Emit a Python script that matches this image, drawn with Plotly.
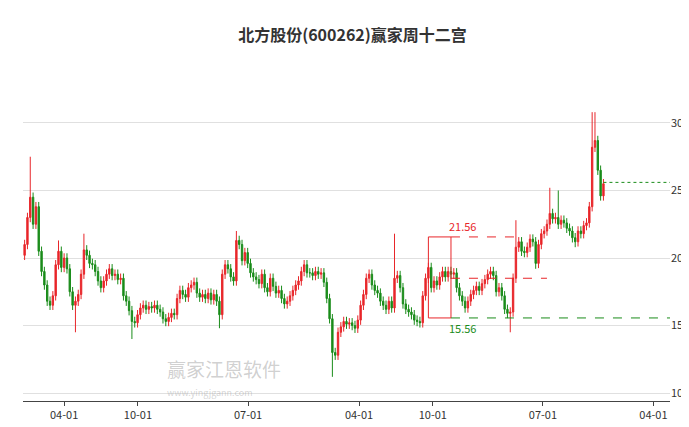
import pandas as pd
import plotly.graph_objects as go

closes = [
    21, 23, 24.5, 22.5, 23.8, 20.5, 19, 18, 16.8, 16.5,
    17.2, 19.5, 20.5, 19.3, 20, 19.2, 17.5, 16.5, 16.8, 17.3,
    18.8, 20.6, 20.2, 19.6, 19.5, 19.0, 18.3, 17.8, 18.3, 18.8,
    19.2, 18.7, 18.8, 18.4, 18.5, 17.2, 16.8, 16.1, 15.3, 15.2,
    15.8, 16.3, 16.5, 16.2, 16.4, 16.3, 16.5, 16.2, 16.0, 15.5,
    15.3, 15.6, 15.9, 15.8, 17.0, 17.6, 17.3, 17.1, 17.8, 18.0,
    18.2, 17.4, 17.1, 17.3, 17.0, 17.4, 16.9, 17.3, 16.8, 15.8,
    18.8, 19.5, 19.2, 18.6, 18.3, 21.3, 21.0, 19.8, 20.4, 19.6,
    18.9, 18.6, 18.4, 18.1, 18.8, 17.8, 17.5, 18.5, 17.9, 17.4,
    17.6, 17.0, 16.6, 16.8, 17.2, 17.6, 18.0, 18.3, 19.0, 19.5,
    18.9, 18.9, 18.7, 19.0, 18.8, 18.9, 18.2, 17.0, 15.5, 13.0,
    12.8, 14.5, 14.9, 15.3, 15.1, 15.2, 15.0, 14.8, 15.4, 16.5,
    17.3, 18.5, 18.8, 18.0, 17.6, 17.4, 16.8, 16.5, 16.2, 16.8,
    16.3, 18.5, 18.7, 17.8, 16.6, 16.2, 16.0, 15.8, 15.4, 15.3,
    15.2, 17.2, 18.5, 19.3, 17.8, 18.3, 18.0, 18.6, 19.0, 18.6,
    19.0, 18.8, 18.9, 17.8, 17.2, 16.8, 16.3, 16.8, 17.3, 17.6,
    17.9, 17.6, 18.1, 18.4, 18.8, 19.0, 18.7, 17.5, 17.8, 17.2,
    16.2, 15.9, 16.0, 18.5, 20.8, 21.2, 20.5, 20.4, 20.8, 21.4,
    21.2, 19.6, 21.0, 21.8, 22.0, 22.5, 23.3, 22.9, 23.0, 22.5,
    22.8, 22.6, 22.2, 22.0, 21.5, 21.2, 22.0, 21.8, 22.4, 22.6,
    23.8, 28.2, 28.7, 26.5, 24.6, 25.5,
]
first_open = 20.2
# wick extremes: week index -> value
spike_highs = {2: 27.5, 12: 21.3, 21: 21.8, 75: 22.0, 131: 21.8, 174: 22.8, 186: 25.2, 189: 25.0, 201: 30.8, 202: 30.8}
spike_lows = {18: 14.5, 38: 14.0, 69: 14.8, 109: 11.2, 172: 14.5, 181: 19.2, 195: 20.8}

box_top = 21.56
box_bottom = 15.56
mid_level = 18.5
last_level = 25.6

dates = pd.date_range("2021-12-24", periods=len(closes), freq="7D")
opens = [first_open] + closes[:-1]
highs = [spike_highs.get(i, max(o, c) + 0.35) for i, (o, c) in enumerate(zip(opens, closes))]
lows = [spike_lows.get(i, min(o, c) - 0.35) for i, (o, c) in enumerate(zip(opens, closes))]

RED = "#e8262a"
GREEN = "#1a8c1a"

fig = go.Figure()
fig.add_trace(
    go.Candlestick(
        x=dates, open=opens, high=highs, low=lows, close=closes,
        increasing=dict(line=dict(color=RED, width=1), fillcolor=RED),
        decreasing=dict(line=dict(color=GREEN, width=1), fillcolor=GREEN),
        whiskerwidth=0, showlegend=False, hoverinfo="skip",
    )
)

b0, b1 = dates[143], dates[151]
fig.add_shape(type="rect", x0=b0, x1=b1, y0=box_bottom, y1=box_top, line=dict(color=RED, width=1))
fig.add_shape(type="line", x0=b1, x1=dates[175], y0=box_top, y1=box_top, line=dict(color=RED, width=1, dash="dash"))
fig.add_shape(type="line", x0=b1, x1=dates[185], y0=mid_level, y1=mid_level, line=dict(color=RED, width=1, dash="dash"))
fig.add_shape(type="line", x0=b1, x1="2026-05-12", y0=box_bottom, y1=box_bottom, line=dict(color=GREEN, width=1, dash="dash"))
fig.add_shape(type="line", x0=dates[-1], x1="2026-05-12", y0=last_level, y1=last_level, line=dict(color=GREEN, width=1, dash="dot"))
fig.add_annotation(x=dates[155], y=box_top, text=f"{box_top:.2f}", showarrow=False, yshift=11, font=dict(color=RED, size=11))
fig.add_annotation(x=dates[155], y=box_bottom, text=f"{box_bottom:.2f}", showarrow=False, yshift=-10, font=dict(color=GREEN, size=11))

fig.add_annotation(xref="paper", yref="paper", x=0.22, y=0.05, yanchor="bottom", text="赢家江恩软件", showarrow=False,
                   font=dict(size=19, color="rgba(150,150,150,0.45)"))
fig.add_annotation(xref="paper", yref="paper", x=0.22, y=0.0, yanchor="bottom", text="www.yingjgann.com", showarrow=False,
                   font=dict(size=9, color="rgba(150,150,150,0.4)"))

fig.update_layout(
    width=689, height=427,
    margin=dict(l=15, r=27, t=60, b=34),
    paper_bgcolor="white", plot_bgcolor="white",
    font=dict(family="Noto Sans CJK SC, sans-serif", size=12, color="#333"),
    title=dict(text="<b>北方股份(600262)赢家周十二宫</b>", x=0.5, y=0.95, xanchor="center", font=dict(size=16, color="#333")),
    xaxis=dict(
        range=["2021-12-20", "2026-05-12"], rangeslider=dict(visible=False),
        tickvals=["2022-04-01", "2022-10-01", "2023-07-01", "2024-04-01", "2024-10-01", "2025-07-01", "2026-04-01"],
        tickformat="%m-%d", showgrid=False, showline=True, linecolor="#444",
        ticks="outside", ticklen=4, tickcolor="#444", tickfont=dict(size=11),
    ),
    yaxis=dict(
        side="right", range=[9.41, 34.07], tickvals=[10, 15, 20, 25, 30],
        showgrid=True, gridcolor="#e0e0e0", zeroline=False, tickfont=dict(size=11),
    ),
)

fig.write_html("out.html")
